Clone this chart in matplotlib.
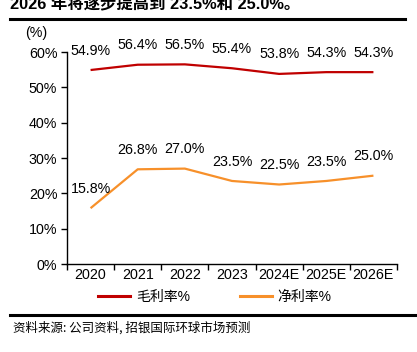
import matplotlib
matplotlib.use("Agg")
import matplotlib.pyplot as plt
from matplotlib.lines import Line2D

plt.rcParams['font.family'] = ['Liberation Sans', 'Noto Sans CJK SC', 'DejaVu Sans']

years = ["2020", "2021", "2022", "2023", "2024E", "2025E", "2026E"]
gross = [54.9, 56.4, 56.5, 55.4, 53.8, 54.3, 54.3]
net = [15.8, 26.8, 27.0, 23.5, 22.5, 23.5, 25.0]
yticks = [0, 10, 20, 30, 40, 50, 60]
red = "#C00000"
orange = "#F7902A"

fig = plt.figure(figsize=(4.17, 3.52), dpi=100)
ax = fig.add_axes([67/417, 1-264/352, 330/417, 212/352])

x = list(range(len(years)))
ax.plot(x, gross, color=red, lw=1.6, solid_capstyle='butt')
ax.plot(x, net, color=orange, lw=1.6, solid_capstyle='butt')
for xi, v in zip(x, gross):
    ax.annotate(f"{v:.1f}%", (xi, v), xytext=(0, 14), textcoords='offset points',
                ha='center', va='center', fontsize=10.3)
for xi, v in zip(x, net):
    ax.annotate(f"{v:.1f}%", (xi, v), xytext=(0, 14), textcoords='offset points',
                ha='center', va='center', fontsize=10.3)

ax.set_xlim(-0.5, len(years)-0.5)
ax.set_ylim(0, 60)
ax.set_yticks(yticks)
ax.set_yticklabels([f"{t}%" for t in yticks], fontsize=10.3)
ax.set_xticks([i - 0.5 for i in range(len(years)+1)])
ax.set_xticklabels([])
ax.set_xticks(x, minor=True)
ax.set_xticklabels(years, minor=True, fontsize=10.3)
ax.tick_params(axis='x', which='minor', length=0, pad=3)
ax.tick_params(axis='x', which='major', length=4, width=1, direction='out')
ax.tick_params(axis='y', length=4, width=1, direction='out', pad=3)
for s in ['top', 'right']:
    ax.spines[s].set_visible(False)
for s in ['left', 'bottom']:
    ax.spines[s].set_linewidth(1)

fig.text(25/417, 1-33/352, "(%)", fontsize=10.3, va='center', ha='left')

handles = [Line2D([], [], color=red, lw=2.2), Line2D([], [], color=orange, lw=2.2)]
fig.legend(handles, ["毛利率%", "净利率%"], loc='center', bbox_to_anchor=(0.515, 1-297/352),
           ncol=2, frameon=False, fontsize=10, handlelength=2.3, columnspacing=3.6,
           handletextpad=0.4)

fig.text(10/417, 1-4/352, "2026 年将逐步提高到 23.5%和 25.0%。", fontsize=11.8,
         fontweight='bold', va='center', ha='left')
fig.add_artist(Line2D([10/417, 405/417], [1-19/352, 1-19/352], color='black', lw=2.2,
                      transform=fig.transFigure))
fig.add_artist(Line2D([10/417, 1.0], [1-315/352, 1-315/352], color='black', lw=2.2,
                      transform=fig.transFigure))
fig.text(13/417, 1-328/352, "资料来源: 公司资料, 招银国际环球市场预测", fontsize=9,
         va='center', ha='left', family=['Noto Sans CJK SC', 'DejaVu Sans'])

fig.savefig("out.png", dpi=100)
